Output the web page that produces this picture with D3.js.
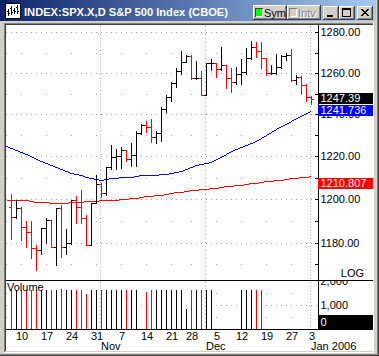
<!DOCTYPE html>
<html><head><meta charset="utf-8">
<script src="https://cdn.jsdelivr.net/npm/d3@7"></script>
<style>
html,body{margin:0;padding:0;background:#d4d0c8;overflow:hidden;}
svg{display:block;}
text{font-family:"Liberation Sans",Arial,sans-serif;}
</style></head><body>
<svg id="c" width="379" height="356"></svg>
<script>
// ---------------- DATA ----------------
const dates = ["2005-10-06","2005-10-07","2005-10-10","2005-10-11","2005-10-12","2005-10-13","2005-10-14","2005-10-17","2005-10-18","2005-10-19","2005-10-20","2005-10-21","2005-10-24","2005-10-25","2005-10-26","2005-10-27","2005-10-28","2005-10-31",
"2005-11-01","2005-11-02","2005-11-03","2005-11-04","2005-11-07","2005-11-08","2005-11-09","2005-11-10","2005-11-11","2005-11-14","2005-11-15","2005-11-16","2005-11-17","2005-11-18","2005-11-21","2005-11-22","2005-11-23","2005-11-25","2005-11-28","2005-11-29","2005-11-30",
"2005-12-01","2005-12-02","2005-12-05","2005-12-06","2005-12-07","2005-12-08","2005-12-09","2005-12-12","2005-12-13","2005-12-14","2005-12-15","2005-12-16","2005-12-19","2005-12-20","2005-12-21","2005-12-22","2005-12-23","2005-12-27","2005-12-28","2005-12-29","2005-12-30",
"2006-01-03"];
const opens = [1196.4,1191.5,1195.9,1187.3,1184.9,1177.7,1176.8,1186.6,1190.1,1178.1,1195.8,1177.8,1179.6,1199.4,1196.5,1191.4,1178.9,1198.4,1207.0,1202.8,1214.8,1219.9,1220.1,1222.8,1218.6,1220.7,1231.0,1234.7,1233.8,1229.0,1231.2,1242.8,1248.3,1254.9,1261.2,1265.6,1268.3,1257.5,1257.5,1249.5,1264.7,1265.1,1262.1,1263.7,1257.4,1255.8,1259.4,1260.4,1267.4,1272.7,1270.9,1267.3,1259.9,1260.0,1262.8,1268.1,1268.7,1256.5,1258.2,1254.4,1248.3];
const highs = [1202.2,1199.7,1196.5,1190.0,1189.9,1179.0,1186.8,1191.2,1190.1,1195.8,1197.3,1186.2,1199.4,1201.3,1204.0,1192.7,1198.4,1211.4,1207.5,1215.2,1225.2,1223.3,1224.6,1223.0,1226.5,1232.1,1235.3,1236.9,1237.7,1231.8,1243.3,1249.4,1255.6,1262.5,1270.8,1268.6,1268.6,1266.0,1261.2,1264.7,1267.0,1265.1,1272.9,1264.1,1262.5,1263.0,1266.8,1272.1,1275.8,1275.0,1275.0,1267.3,1263.8,1269.4,1268.6,1269.7,1271.8,1259.0,1258.5,1254.5,1249.0];
const lows = [1181.5,1191.1,1181.3,1178.1,1172.8,1167.5,1174.8,1179.6,1177.8,1169.8,1173.3,1174.7,1179.2,1188.8,1189.1,1178.9,1178.9,1198.0,1200.9,1201.7,1214.0,1214.0,1214.5,1217.7,1215.6,1215.6,1230.5,1231.6,1226.8,1226.5,1227.3,1240.9,1246.5,1253.3,1259.6,1265.4,1257.3,1257.3,1249.3,1249.3,1261.7,1258.0,1261.7,1252.9,1251.0,1254.5,1254.8,1259.3,1267.0,1267.6,1262.5,1259.0,1259.3,1259.6,1262.5,1266.5,1256.3,1254.5,1249.7,1246.5,1245.0];
const closes = [1191.5,1195.9,1187.3,1184.9,1177.7,1176.8,1186.6,1190.1,1178.1,1195.8,1177.8,1179.6,1199.4,1196.5,1191.4,1178.9,1198.4,1207.0,1202.8,1214.8,1219.9,1220.1,1222.8,1218.6,1220.7,1231.0,1234.7,1233.8,1229.0,1231.2,1242.8,1248.3,1254.9,1261.2,1265.6,1268.3,1257.5,1257.5,1249.5,1264.7,1265.1,1262.1,1263.7,1257.4,1255.8,1259.4,1260.4,1267.4,1272.7,1270.9,1267.3,1259.9,1260.0,1262.8,1268.1,1268.7,1256.5,1258.2,1254.4,1248.3,1247.39];
// volume (millions), null = no data
const volumes = [1637,1608,1608,1637,1637,1608,1637,1637,1637,1637,1679,1608,1608,1608,1637,1471,1608,1637,1637,1637,1608,1608,1608,1637,1637,1637,null,1525,1637,1608,1608,1637,1608,1608,1608,846,1608,1637,1637,1608,1608,null,null,null,null,null,1637,1637,1637,1608,1608,null,null,null,null,null,null,null,null,null,null];
// moving averages start one trading day before the first bar (2005-10-05)
const maStartOffset = -1;
const maBlue = [1224.9,1224.0,1223.0,1222.1,1221.1,1220.1,1218.7,1217.7,1216.8,1215.8,1214.9,1213.9,1212.9,1212.2,1211.7,1211.0,1210.3,1209.8,1209.3,1209.1,1209.3,1209.6,1209.8,1210.1,1210.3,1210.5,1210.8,1211.0,1211.0,1211.0,1211.3,1211.5,1211.7,1212.0,1212.5,1213.2,1214.1,1215.1,1215.8,1216.3,1216.8,1217.5,1218.7,1219.9,1221.1,1222.3,1223.3,1224.2,1225.4,1226.4,1227.3,1228.5,1230.2,1231.7,1233.1,1234.3,1235.5,1236.9,1238.4,1239.3,1240.5,1241.736];
const maRed = [1199.5,1199.5,1199.5,1199.5,1199.5,1199.3,1198.8,1198.7,1198.5,1198.4,1198.4,1198.4,1198.4,1198.5,1198.7,1198.8,1198.9,1199.0,1199.3,1199.5,1199.5,1199.7,1199.8,1200.0,1200.2,1200.3,1200.7,1201.0,1201.3,1201.4,1201.7,1202.0,1202.4,1202.8,1203.1,1203.4,1203.8,1204.1,1204.3,1204.5,1204.8,1205.0,1205.3,1205.6,1205.9,1206.2,1206.5,1206.7,1207.0,1207.3,1207.7,1208.0,1208.3,1208.6,1208.9,1209.1,1209.3,1209.6,1209.8,1210.1,1210.3,1210.807];
const priceTicks = [1180,1200,1220,1240,1260,1280];
const priceMinorTicks = [1170,1180,1190,1200,1210,1220,1230,1240,1250,1260,1270,1280];
const volumeTicks = [1000,2000];
const dayTickDates = ["2005-10-10","2005-10-17","2005-10-24","2005-10-31","2005-11-07","2005-11-14","2005-11-21","2005-11-28","2005-12-05","2005-12-12","2005-12-19","2005-12-27","2006-01-03"];
const dayTickLabels = ["10","17","24","31","7","14","21","28","5","12","19","27","3"];
const monthDates = ["2005-11-01","2005-12-01","2006-01-03"];
const monthLabels = ["Nov","Dec","Jan 2006"];
const titleText = "INDEX:SPX.X,D S&P 500 Index (CBOE)";
const lastLabel = "1247.39", blueLabel = "1241.736", redLabel = "1210.807";

// ---------------- LAYOUT ----------------
const svg = d3.select("#c");
const plotL = 6, plotR = 317, axisX = 318, whiteR = 372;
const mainTop = 25, mainBot = 279, sepY = 280, volTop = 281, volBot = 329;
const x = d3.scaleLinear().domain([0, dates.length - 1]).range([11, 311]);
const y = d3.scaleLog().domain([1180, 1280]).range([242.5, 32.3]);
const yv = d3.scaleLinear().domain([0, 2000]).range([329.3, 281]);
const RED = "#ff0000", BLUE = "#0000ff", DOT = "#a0a0a0";
const isDown = i => closes[i] < (i === 0 ? opens[0] : closes[i - 1]);
const col = i => isDown(i) ? RED : "#000";

const defs = svg.append("defs");
const grad = defs.append("linearGradient").attr("id","tg").attr("x1","0").attr("x2","1");
grad.append("stop").attr("offset","0").attr("stop-color","#0a246a");
grad.append("stop").attr("offset","1").attr("stop-color","#a6caf0");
defs.append("clipPath").attr("id","mainClip").append("rect")
  .attr("x",plotL).attr("y",mainTop).attr("width",plotR-plotL).attr("height",mainBot-mainTop+1);
defs.append("clipPath").attr("id","volClip").append("rect")
  .attr("x",plotL).attr("y",volTop).attr("width",whiteR-plotL).attr("height",volBot-volTop);

const R = (g,x0,y0,w,h,f) => g.append("rect").attr("x",x0).attr("y",y0).attr("width",w).attr("height",h).attr("fill",f);

// ---------------- WINDOW FRAME ----------------
R(svg,0,0,379,356,"#d4d0c8");
R(svg,377,0,1,356,"#808080"); R(svg,378,0,1,356,"#404040");
R(svg,0,354,379,1,"#808080"); R(svg,0,355,379,1,"#404040");
R(svg,0,0,376,21,"url(#tg)");
R(svg,4,23,369,1,"#808080"); R(svg,4,23,1,329,"#808080");
R(svg,5,24,368,1,"#404040"); R(svg,5,24,1,327,"#404040");
R(svg,373,23,1,329,"#ffffff"); R(svg,4,352,370,1,"#ffffff");
R(svg,plotL,25,whiteR-plotL+1,326,"#ffffff");

// title icon
const ic = svg.append("g");
R(ic,5,3,16,16,"#000");
R(ic,6,4,14,14,"#ffffff");
[[8,9,7],[11,6,9],[14,8,6],[17,5,9]].forEach(([bx,by,bh])=>{R(ic,bx,by,1,bh,"#000");R(ic,bx-1,by+2,1,1,"#000");R(ic,bx+1,by+bh-3,1,1,"#000");});
svg.append("text").attr("x",24).attr("y",16).attr("fill","#fff").attr("font-weight","bold")
  .attr("font-size","11.5px").attr("textLength",204).attr("lengthAdjust","spacingAndGlyphs").text(titleText);

function button(x0,y0,w,h){
  const g = svg.append("g");
  R(g,x0,y0,w,h,"#404040");
  R(g,x0,y0,w-1,h-1,"#ffffff");
  R(g,x0+1,y0+1,w-2,h-2,"#808080");
  R(g,x0+1,y0+1,w-3,h-3,"#d4d0c8");
  return g;
}
const b1 = button(253,5,34,15);
R(b1,255,8,8,9,"#404040"); R(b1,256,9,7,8,"#ffffff"); R(b1,256,9,6,7,"#00ff00");
b1.append("text").attr("x",264).attr("y",16.5).attr("font-size","11px").attr("fill","#000").text("Sym");
const b2 = button(287,5,34,15);
R(b2,289,8,8,9,"#808080"); R(b2,290,9,7,8,"#ffffff"); R(b2,290,9,6,7,"#d4d0c8");
b2.append("text").attr("x",299).attr("y",17.5).attr("font-size","11px").attr("fill","#fff").text("Intv");
b2.append("text").attr("x",298).attr("y",16.5).attr("font-size","11px").attr("fill","#808080").text("Intv");
const bm = button(323,6,16,14); R(bm,327,15,6,2,"#000");
const bx = button(339,6,16,14); R(bx,342,8,9,2,"#000"); R(bx,342,8,1,9,"#000"); R(bx,350,8,1,9,"#000"); R(bx,342,16,9,1,"#000");
const bc = button(357,6,16,14);
bc.append("path").attr("d","M361,9L368,16M362,9L369,16M368,9L361,16M369,9L362,16").attr("stroke","#000").attr("stroke-width",1).attr("shape-rendering","crispEdges");

// ---------------- GRID ----------------
const grid = svg.append("g").attr("clip-path","url(#mainClip)");
const dot = (g,px,py) => R(g,Math.round(px),Math.round(py),1,1,DOT);
const weekIdx = [-1].concat(dayTickDates.map(d=>dates.indexOf(d)));
const monthIdx = monthDates.map(d=>dates.indexOf(d));
priceTicks.forEach(v=>{ for(let i=-1;i<=61;i++) dot(grid,x(i),y(v)); });
priceMinorTicks.filter(v=>!priceTicks.includes(v)).forEach(v=>{
  weekIdx.forEach(i=>{ if(!monthIdx.includes(i)) dot(grid,x(i),y(v)); });
});
monthIdx.forEach(i=>{ for(let py=mainTop+1; py<=mainBot; py+=4) dot(grid,x(i)-1,py); });
const vgrid = svg.append("g").attr("clip-path","url(#volClip)");
monthIdx.forEach(i=>{ for(let py=volTop+1; py<volBot; py+=4) dot(vgrid,x(i)-1,py); });
[500,1000,1500].forEach(v=>weekIdx.forEach(i=>{ if(!monthIdx.includes(i)) dot(vgrid,x(i),yv(v)); }));
for(let i=-1;i<=61;i++) dot(vgrid,x(i),yv(1000));

// ---------------- MOVING AVERAGES ----------------
const main = svg.append("g").attr("clip-path","url(#mainClip)");
const maLine = d3.line().x((d,k)=>x(k+maStartOffset)+0.5).y(d=>Math.round(y(d))+0.5);
main.append("path").attr("d",maLine(maRed)).attr("fill","none").attr("stroke",RED).attr("stroke-width",1).attr("shape-rendering","crispEdges");
main.append("path").attr("d",maLine(maBlue)).attr("fill","none").attr("stroke",BLUE).attr("stroke-width",1).attr("shape-rendering","crispEdges");

// ---------------- OHLC BARS ----------------
dates.forEach((d,i)=>{
  const c = col(i), cx = x(i);
  const yh = Math.round(y(highs[i])), yl = Math.round(y(lows[i]));
  R(main,cx,yh,1,yl-yh+1,c);
  R(main,cx-2,Math.round(y(opens[i])),2,1,c);
  R(main,cx+1,Math.round(y(closes[i])),2,1,c);
});

// ---------------- VOLUME ----------------
const vol = svg.append("g").attr("clip-path","url(#volClip)");
volumes.forEach((v,i)=>{
  if(v==null) return;
  const yt = Math.round(yv(v));
  R(vol,x(i),yt,1,Math.round(yv(0))-yt,col(i));
});
svg.append("text").attr("x",7).attr("y",291).attr("font-size","11px").text("Volume");

// ---------------- AXES ----------------
R(svg,plotL,sepY,whiteR-plotL+1,1,"#000");
R(svg,axisX,25,1,volBot-25+1,"#000");
R(svg,plotL,volBot,axisX-plotL+1,1,"#000");

const gMinor = svg.append("g").attr("transform",`translate(${axisX},0)`)
  .call(d3.axisLeft(y).tickValues(priceMinorTicks).tickSize(3).tickFormat(""));
gMinor.select(".domain").remove();
gMinor.selectAll("line").attr("stroke","#000").attr("shape-rendering","crispEdges");

const gPrice = svg.append("g").attr("transform",`translate(${axisX},0)`)
  .call(d3.axisRight(y).tickValues(priceTicks).tickSize(0).tickPadding(2.5).tickFormat(d3.format(".2f")));
gPrice.select(".domain").remove();
gPrice.selectAll("text").attr("font-size","11px").attr("font-family","Liberation Sans, Arial, sans-serif").attr("fill","#000");

const gVolWrap = svg.append("g").attr("clip-path","url(#volClip)");
const gVol = gVolWrap.append("g").attr("transform",`translate(${axisX},0)`)
  .call(d3.axisRight(yv).tickValues(volumeTicks).tickSize(0).tickPadding(2.5).tickFormat(d3.format(",")));
gVol.select(".domain").remove();
gVol.selectAll("text").attr("font-size","11px").attr("font-family","Liberation Sans, Arial, sans-serif").attr("fill","#000");

const tickIdx = dayTickDates.map(d=>dates.indexOf(d));
const gX = svg.append("g").attr("transform",`translate(0.5,${volBot})`)
  .call(d3.axisBottom(x).tickValues(tickIdx).tickSize(0).tickPadding(3).tickFormat((d,k)=>dayTickLabels[k]));
gX.select(".domain").remove();
gX.selectAll("text").attr("font-size","11px").attr("font-family","Liberation Sans, Arial, sans-serif").attr("fill","#000");
monthIdx.forEach((i,k)=>{
  svg.append("text").attr("x",x(i)).attr("y",349.5).attr("font-size","11px").text(monthLabels[k]);
});
svg.append("text").attr("x",364).attr("y",277).attr("font-size","11px").attr("text-anchor","end").text("LOG");

// ---------------- LAST VALUE BOXES ----------------
function valueBox(top, fill, label){
  R(svg,axisX,top,whiteR-axisX+1,11,fill);
  svg.append("text").attr("x",320.5).attr("y",top+9).attr("font-size","11px").attr("fill","#fff").text(label);
}
const yLast = y(closes[closes.length-1]);
valueBox(Math.round(yLast - 5.5), "#000", lastLabel);
valueBox(Math.round(Math.max(y(maBlue[maBlue.length-1]) - 5.5, yLast + 5.5)), BLUE, blueLabel);
valueBox(Math.round(y(maRed[maRed.length-1]) + 2), RED, redLabel);
// volume zero box
R(svg,axisX,315,whiteR-axisX+1,15,"#000");
svg.append("text").attr("x",320.5).attr("y",326).attr("font-size","11px").attr("fill","#fff").text("0");
</script>
</body></html>
